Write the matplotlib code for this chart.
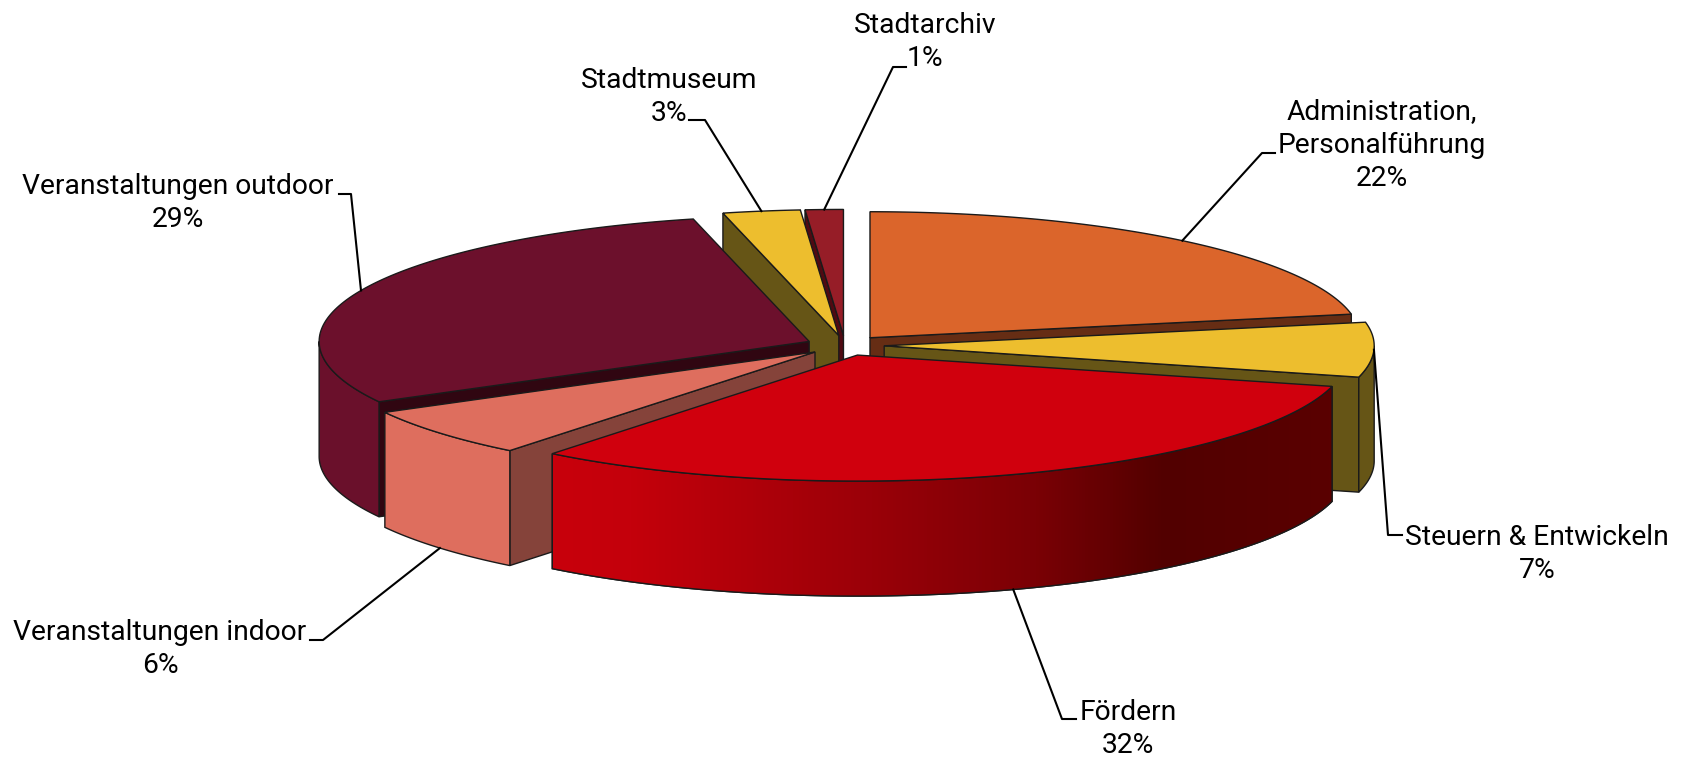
import numpy as np
import matplotlib
matplotlib.use('Agg')
import matplotlib.pyplot as plt
from matplotlib.colors import LinearSegmentedColormap
from matplotlib.patches import Polygon

plt.rcParams['font.family'] = ['Roboto', 'DejaVu Sans']

# clockwise from 12 o'clock
names = ['Administration,\nPersonalführung', 'Steuern & Entwickeln', 'Fördern',
         'Veranstaltungen indoor', 'Veranstaltungen outdoor', 'Stadtmuseum', 'Stadtarchiv']
shares = [22, 7, 31.7, 6.35, 29.15, 2.55, 1.25]

top_colors = ['#DB652B', '#EDBE2E', '#D0000D', '#DE6E5E', '#6C102C', '#EDBE2E', '#961D27']
wall_colors = ['#662D14', '#665516', '#520000', '#85433A', '#300611', '#665516', '#500A12']
rim_colors = ['#662D14', '#665516', '#C8000C', '#DE6E5E', '#6A102B', '#665516', '#500A12']

# back to front
draw_order = [6, 5, 0, 4, 1, 3, 2]

# pie geometry in pixels
cx, cy = 845, 345.5
rx, ry = 490, 126
depth = 115
explode = 0.08
edge = '#1a1a1a'

# label centre and leader elbow / end
label_xy = [(1382, 145), (1537, 554), (1128, 729), (160, 649), (178, 203), (669, 97), (925, 42)]
elbows = [(1262, 153), (1388, 535), (1062, 719), (323, 640), (351, 194), (705, 120), (893, 67)]
ends = [(1275, 153), (1402, 535), (1076, 719), (310, 640), (339, 194), (689, 120), (906, 67)]


def rim_xy(theta, ox, oy):
    return ox + rx*np.sin(theta), oy - ry*np.cos(theta)


fig = plt.figure(figsize=(16.87, 7.59), dpi=100)
ax = fig.add_axes([0, 0, 1, 1])

edges = np.radians(np.concatenate(([0], np.cumsum(shares))) * 3.6)
mids = (edges[:-1] + edges[1:]) / 2
origins = [(cx + explode*rx*np.sin(m), cy - explode*ry*np.cos(m)) for m in mids]

for i in draw_order:
    t0, t1 = edges[i], edges[i+1]
    ox, oy = origins[i]

    # radial walls, only those facing the viewer
    for t, visible in ((t0, np.sin(t0) < -1e-6), (t1, np.sin(t1) > 1e-6)):
        if visible:
            x, y = rim_xy(t, ox, oy)
            ax.add_patch(Polygon([(ox, oy), (x, y), (x, y+depth), (ox, oy+depth)],
                                 fc=wall_colors[i], ec=edge, lw=1, zorder=2))

    # outer rim, front half only
    a, b = max(t0, np.pi/2), min(t1, 3*np.pi/2)
    if b > a:
        t = np.linspace(a, b, 120)
        x, y = rim_xy(t, ox, oy)
        pts = np.r_[np.c_[x, y], np.c_[x, y+depth][::-1]]
        if names[i] == 'Fördern':
            # this rim fades to dark towards the right
            pg = Polygon(pts, fc='none', ec=edge, lw=1, zorder=2)
            ax.add_patch(pg)
            cmap = LinearSegmentedColormap.from_list('rim', [(0, rim_colors[i]), (0.1, '#C4000B'), (0.41, '#9A0008'),
                                                             (0.62, '#7A0005'), (0.785, '#520000'), (1, '#5A0000')])
            im = ax.imshow(np.linspace(0, 1, 256)[None, :], cmap=cmap, aspect='auto', zorder=2,
                           extent=(x.min(), x.max(), (y+depth).max(), y.min()))
            im.set_clip_path(pg)
            ax.add_patch(Polygon(pts, fc='none', ec=edge, lw=1, zorder=2))
        else:
            ax.add_patch(Polygon(pts, fc=rim_colors[i], ec=edge, lw=1, zorder=2))

    # top face
    t = np.linspace(t0, t1, 120)
    x, y = rim_xy(t, ox, oy)
    ax.add_patch(Polygon(np.r_[[(ox, oy)], np.c_[x, y]], fc=top_colors[i], ec=edge, lw=1, zorder=2))

# labels and leader lines
for i, name in enumerate(names):
    ox, oy = origins[i]
    x, y = rim_xy(mids[i], ox, oy)
    if np.cos(mids[i]) < -0.5:
        y = y + depth
    ax.plot([x, elbows[i][0], ends[i][0]], [y, elbows[i][1], ends[i][1]], color='black', lw=1.5, zorder=3)
    ax.text(label_xy[i][0], label_xy[i][1], '%s\n%d%%' % (name, round(shares[i])), ha='center', va='center',
            fontsize=20.3, color='black', linespacing=1.32, zorder=4)

ax.set_xlim(0, 1687)
ax.set_ylim(759, 0)
ax.axis('off')
fig.savefig('out.png', dpi=100, facecolor='white')
